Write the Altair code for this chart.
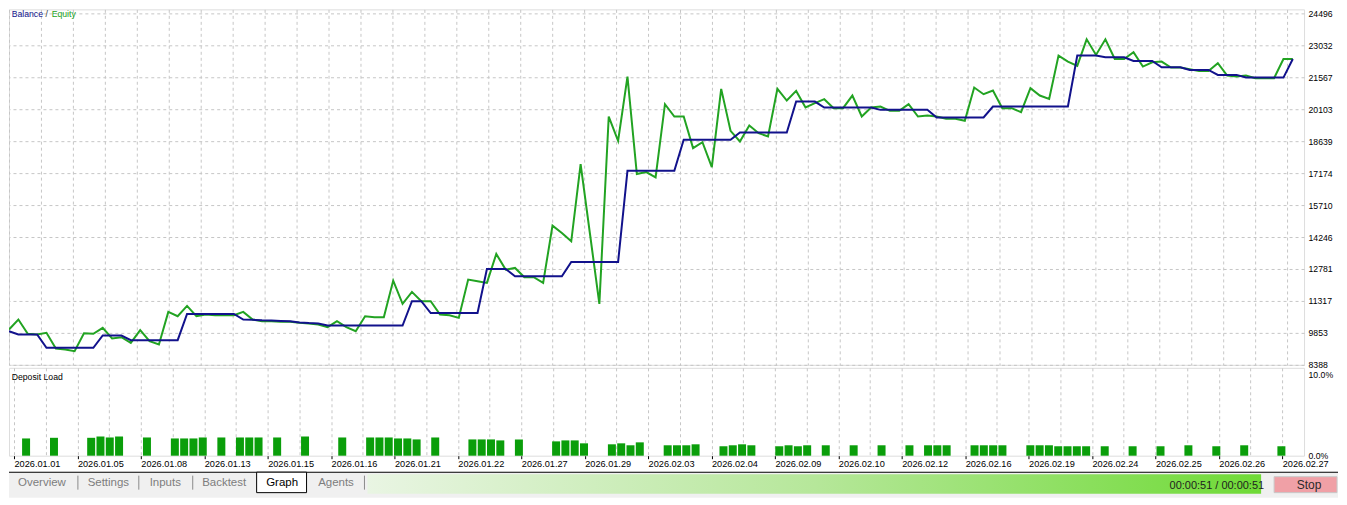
import altair as alt
import pandas as pd

# ---------------- data ----------------
equity = [
    10007, 10464, 9809, 9778, 9855, 9137, 9092, 9015, 9839, 9809,
    10083, 9595, 9656, 9397, 9976, 9473, 9320, 10815, 10617, 11090,
    10617, 10693, 10663, 10663, 10663, 10815, 10464, 10388, 10388, 10358,
    10358, 10312, 10281, 10236, 10113, 10388, 10113, 9931, 10617, 10571,
    10571, 12249, 11181, 11730, 11303, 11303, 10693, 10663, 10541, 12295,
    12218, 12142, 13469, 12752, 12829, 12402, 12402, 12142, 14766, 14430,
    14049, 17588, 14384, 11181, 19768, 18655, 21599, 17130, 17221, 16977,
    20333, 19768, 19768, 18320, 18594, 17451, 21035, 19113, 18625, 19357,
    19006, 18854, 21035, 20501, 20943, 20181, 20379, 20562, 20150, 20150,
    20730, 19768, 20181, 20226, 20028, 20028, 20333, 19768, 19814, 19768,
    19662, 19662, 19570, 21096, 20791, 20958, 20150, 20150, 19967, 21065,
    20730, 20577, 22560, 22285, 22087, 23307, 22591, 23307, 22407, 22407,
    22713, 22057, 22255, 22285, 22011, 22011, 21935, 21858, 21858, 22209,
    21645, 21599, 21645, 21523, 21523, 21523, 22407, 22407,
]
balance = [
    9930, 9778, 9778, 9778, 9167, 9167, 9167, 9167, 9167, 9167,
    9732, 9732, 9732, 9518, 9518, 9518, 9518, 9518, 9518, 10723,
    10723, 10723, 10723, 10723, 10723, 10464, 10450, 10430, 10420, 10400,
    10380, 10330, 10300, 10280, 10190, 10190, 10190, 10190, 10190, 10190,
    10190, 10190, 10190, 11303, 11303, 10760, 10760, 10760, 10760, 10760,
    10760, 12783, 12783, 12783, 12447, 12447, 12447, 12447, 12447, 12447,
    13103, 13103, 13103, 13103, 13103, 13103, 17282, 17282, 17282, 17282,
    17282, 17282, 18701, 18701, 18701, 18701, 18701, 18701, 19037, 19037,
    19037, 19037, 19037, 19037, 20455, 20455, 20455, 20181, 20181, 20181,
    20181, 20181, 20181, 20074, 20074, 20074, 20074, 20074, 20074, 19723,
    19723, 19723, 19723, 19723, 19723, 20226, 20226, 20226, 20226, 20226,
    20226, 20226, 20226, 20226, 22560, 22560, 22560, 22484, 22484, 22484,
    22316, 22316, 22316, 22026, 22026, 22026, 21904, 21904, 21904, 21675,
    21675, 21675, 21553, 21553, 21553, 21553, 21553, 22407,
]
load_idx = [
    1, 4, 8, 9, 10, 11, 14, 17, 18, 19, 20, 22, 24, 25, 26, 28, 31, 35, 38, 39,
    40, 41, 42, 43, 45, 49, 50, 51, 52, 54, 58, 59, 60, 61, 64, 65, 66, 67, 70, 71,
    72, 73, 76, 77, 78, 79, 82, 83, 84, 85, 87, 90, 93, 96, 98, 99, 100, 103, 104, 105,
    106, 109, 110, 111, 112, 113, 114, 115, 117, 120, 123, 126, 129, 132, 136,
]
load_pct = [
    2.12, 2.2, 2.2, 2.36, 2.24, 2.36, 2.24, 2.12, 2.12, 2.12, 2.24, 2.24, 2.24, 2.24, 2.24, 2.24, 2.36, 2.24, 2.24, 2.24,
    2.24, 2.12, 2.12, 2.0, 2.24, 2.0, 2.0, 2.0, 1.88, 2.0, 1.76, 1.88, 1.88, 1.52, 1.4, 1.52, 1.28, 1.64, 1.28, 1.28,
    1.28, 1.4, 1.16, 1.28, 1.4, 1.28, 1.16, 1.28, 1.16, 1.28, 1.28, 1.28, 1.28, 1.28, 1.28, 1.28, 1.28, 1.28, 1.28, 1.28,
    1.28, 1.28, 1.28, 1.28, 1.16, 1.16, 1.16, 1.16, 1.16, 1.16, 1.16, 1.28, 1.16, 1.28, 1.16,
]
date_labels = [
    "2026.01.01", "2026.01.05", "2026.01.08", "2026.01.13", "2026.01.15", "2026.01.16",
    "2026.01.21", "2026.01.22", "2026.01.27", "2026.01.29", "2026.02.03", "2026.02.04",
    "2026.02.09", "2026.02.10", "2026.02.12", "2026.02.16", "2026.02.19", "2026.02.24",
    "2026.02.25", "2026.02.26", "2026.02.27",
]
y_ticks = [8388, 9853, 11317, 12781, 14246, 15710, 17174, 18639, 20103, 21567, 23032, 24496]
load_ticks = [0, 10]
tab_names = ["Overview", "Settings", "Inputs", "Backtest", "Graph", "Agents"]
time_text = "00:00:51 / 00:00:51"

# ---------------- layout / style ----------------
FONT = "Liberation Sans"
W = 1297
TOP_H = 356
BOT_H = 88
XMAX = 138.2
PX = W / XMAX
STEP = 32 / PX
grid_vals = [round(j * STEP, 5) for j in range(41)]

GREEN = "#22a322"
NAVY = "#12128c"
BARGREEN = "#0a9e0a"
GRID = "#c6c6c6"

df = pd.DataFrame({"k": list(range(len(equity))), "equity": equity, "balance": balance})
bars = pd.DataFrame({"k": load_idx, "load": load_pct})
one = alt.Data(values=[{}])

xscale = alt.Scale(domain=[0, XMAX], nice=False, zero=False)
yscale_top = alt.Scale(domain=[8388, 24679], nice=False, zero=False)

x_top_axis = alt.Axis(values=grid_vals, labels=False, ticks=False, domain=False,
                      grid=True, gridDash=[3, 3], gridColor=GRID, title=None)
y_top_axis = alt.Axis(orient="right", values=y_ticks, format="d", ticks=False, domain=False,
                      grid=True, gridDash=[3, 3], gridColor=GRID, title=None,
                      labelFont=FONT, labelFontSize=8.7, labelColor="#000000", labelPadding=4)

eq_line = alt.Chart(df).mark_line(color=GREEN, strokeWidth=2, clip=True).encode(
    x=alt.X("k:Q", scale=xscale, axis=x_top_axis),
    y=alt.Y("equity:Q", scale=yscale_top, axis=y_top_axis),
)
bal_line = alt.Chart(df).mark_line(color=NAVY, strokeWidth=2, clip=True).encode(
    x=alt.X("k:Q", scale=xscale, axis=x_top_axis),
    y=alt.Y("balance:Q", scale=yscale_top, axis=y_top_axis),
)

def txt(s, x, y, color="#000000", size=8.7, align="left"):
    return alt.Chart(one).mark_text(text=s, font=FONT, fontSize=size, color=color,
                                    align=align, baseline="middle").encode(
        x=alt.value(x), y=alt.value(y))

legend = [
    txt("Balance", 2.7, 5, NAVY),
    txt("/", 36.5, 5, "#333333"),
    txt("Equity", 42.7, 5, GREEN),
]

top = alt.layer(eq_line, bal_line, *legend).properties(width=W, height=TOP_H)

# bottom panel
labels_js = "[" + ",".join("'%s'" % d for d in date_labels) + "]"
jexpr = "round(datum.value/%f)" % STEP
label_expr = "(%s %% 2 == 0) ? %s[%s/2] : ''" % (jexpr, labels_js, jexpr)
x_bot_axis = alt.Axis(values=grid_vals, labelExpr=label_expr, domain=False,
                      grid=True, gridDash=[3, 3], gridColor=GRID, title=None,
                      tickSize=3, tickColor="#000000",
                      tickOpacity={"condition": {"test": "%s %% 2 == 0" % jexpr, "value": 1}, "value": 0},
                      labelAlign="left", labelBaseline="top", labelPadding=1,
                      labelFont=FONT, labelFontSize=9.2, labelColor="#000000",
                      labelOverlap=False, labelFlush=False, labelBound=False)
y_bot_axis = alt.Axis(orient="right", values=load_ticks,
                      labelExpr="format(datum.value, '.1f') + '%'",
                      ticks=False, domain=False, grid=False, title=None,
                      labelFont=FONT, labelFontSize=8.7, labelColor="#000000", labelPadding=4)

load_bars = alt.Chart(bars).transform_calculate(xc="datum.k + 0.3").mark_bar(
    size=8, color=BARGREEN, orient="vertical").encode(
    x=alt.X("xc:Q", scale=xscale, axis=x_bot_axis),
    y=alt.Y("load:Q", scale=alt.Scale(domain=[0, 10.8], nice=False), axis=y_bot_axis),
)

def rect(x, x2, y, y2, **kw):
    return alt.Chart(one).mark_rect(**kw).encode(
        x=alt.value(x), x2=alt.value(x2), y=alt.value(y), y2=alt.value(y2))

def vrule(x, y, y2, color):
    return alt.Chart(one).mark_rule(color=color, strokeWidth=1).encode(
        x=alt.value(x), y=alt.value(y), y2=alt.value(y2))

ui = [
    txt("Deposit Load", 2.7, 9),
    rect(0, 1331, 104.5, 130, color="#f0f0f0"),
    rect(0, 1331, 104, 105, color="#000000"),
    rect(248, 298, 104.5, 125, fill="#ffffff", stroke="#000000", strokeWidth=1),
]
tab_cx = [33, 99.5, 156.5, 215.5, 273.5, 327.5]
for name, cx in zip(tab_names, tab_cx):
    ui.append(txt(name, cx, 115, "#000000" if name == "Graph" else "#7d7d7d", 11.5, "center"))
for sx in [69, 130, 184, 356]:
    ui.append(vrule(sx, 108, 122, "#8a8a8a"))
ui.append(rect(359, 1254, 106.5, 126, fill=alt.Gradient(
    gradient="linear", x1=0, x2=1, y1=0, y2=0,
    stops=[alt.GradientStop(offset=0, color="#e9f5e3"),
           alt.GradientStop(offset=0.5, color="#b6e79a"),
           alt.GradientStop(offset=1, color="#6fda36")])))
ui.append(txt(time_text, 1257, 118, "#1e1e1e", 11, "right"))
ui.append(rect(1267, 1330, 109, 125, fill="#f0a0a6", stroke="#c9c9c9", strokeWidth=1))
ui.append(txt("Stop", 1302, 117, "#2a2a2a", 12, "center"))

bottom = alt.layer(load_bars, *ui).properties(width=W, height=BOT_H)

chart = alt.vconcat(top, bottom, spacing=3, bounds="flush").properties(
    padding={"left": 0, "top": 0, "right": 0, "bottom": 0}
).configure_view(stroke="#000000", strokeWidth=1).configure(
    font=FONT, background="#ffffff")

chart.save("out.html", embed_options={"renderer": "svg", "actions": False})
